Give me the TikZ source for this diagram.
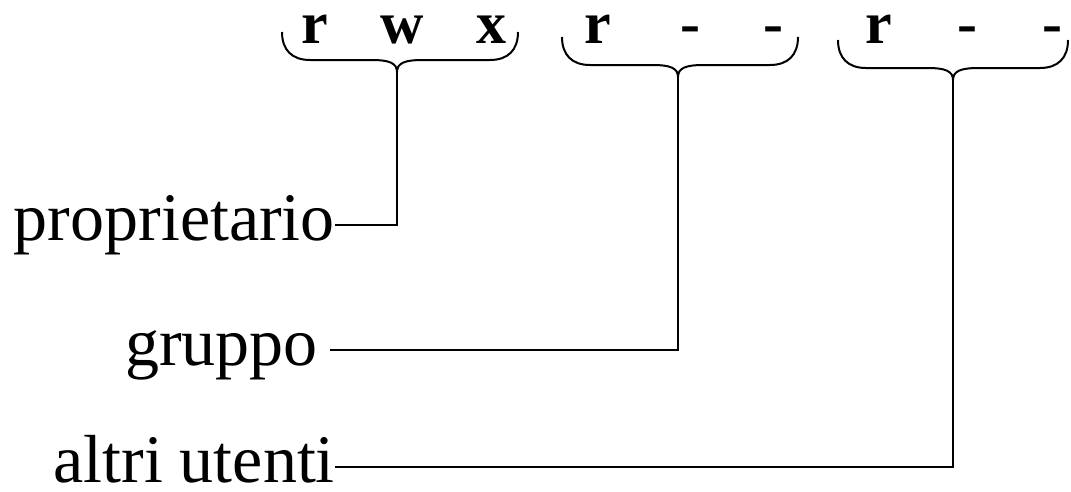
\documentclass[tikz,border=0pt]{standalone}
\usepackage{fontspec}
\setmainfont{Liberation Serif}
\usetikzlibrary{calc}

\begin{document}
\begin{tikzpicture}[
    x=1pt, y=-1pt,
    bit/.style={font=\bfseries\fontsize{60}{60}\selectfont, inner sep=0, anchor=base},
    who/.style={font=\fontsize{68}{68}\selectfont, inner sep=0, text height=30pt, text depth=0pt, anchor=east},
    brace/.style={line width=2pt},
    link/.style={line width=2.4pt}
]
\useasboundingbox (0,0) rectangle (1071,491);

% Permission bits
\node[bit] (or) at (315,43) {r};
\node[bit] (ow) at (402,43) {w};
\node[bit] (ox) at (491,43) {x};
\node[bit] (gr) at (598,43) {r};
\node[bit] (gw) at (690,43) {-};
\node[bit] (gx) at (773,43) {-};
\node[bit] (ar) at (879,43) {r};
\node[bit] (aw) at (967,43) {-};
\node[bit] (ax) at (1052,43) {-};

% Braces
\foreach \l/\c/\r/\t/\n in {282/397/518/32/prop, 562/678/798/37/grp, 838/953/1068/40/oth}{
  \draw[brace] (\l,\t) .. controls (\l,{\t+18}) and ({\l+10},{\t+28}) .. ({\l+28},{\t+28})
    -- ({\c-25},{\t+28}) .. controls ({\c-8},{\t+28}) and (\c,{\t+31}) .. (\c,{\t+40})
    .. controls (\c,{\t+31}) and ({\c+8},{\t+28}) .. ({\c+25},{\t+28})
    -- ({\r-28},{\t+28}) .. controls ({\r-10},{\t+28}) and (\r,{\t+18}) .. (\r,\t);
  \coordinate (tip\n) at (\c,{\t+40});
}

% Labels
\node[who] (prop) at (335,225) {proprietario};
\node[who, inner xsep=12pt] (grp) at (330,350) {gruppo};
\node[who] (oth) at (335,467) {altri utenti};

% Paths
\draw[link] (prop.east) -| (tipprop);
\draw[link] (grp.east) -| (tipgrp);
\draw[link] (oth.east) -| (tipoth);

\end{tikzpicture}
\end{document}
